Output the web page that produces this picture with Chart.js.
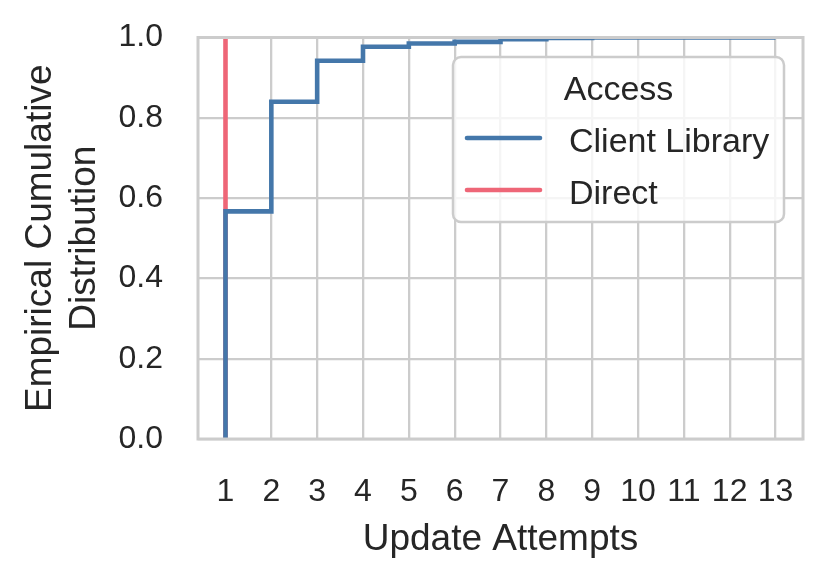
<!DOCTYPE html>
<html>
<head>
    <meta charset="utf-8">
    <title>Update Attempts ECDF</title>
    <style>
        body {
            margin: 0;
            background: white;
        }
        .chart-box {
            width: 829px;
            height: 584px;
        }
    </style>
    <script src="https://cdn.jsdelivr.net/npm/chart.js@4.4.1/dist/chart.umd.min.js"></script>
</head>
<body>
    <div class="chart-box">
        <canvas id="ecdfChart"></canvas>
    </div>
    <script>
        // values
        const attempts = [1, 2, 3, 4, 5, 6, 7, 8, 9, 10, 11, 12, 13];
        const clientLibrary = [0.567, 0.840, 0.942, 0.977, 0.985, 0.989, 0.996, 0.999, 1.0, 1.0, 1.0, 1.0, 1.0];
        const directAttempts = [1];
        const direct = [1.0];
        const xTicks = [1, 2, 3, 4, 5, 6, 7, 8, 9, 10, 11, 12, 13];
        const yTicks = [0, 0.2, 0.4, 0.6, 0.8, 1.0];
        const legendTitle = 'Access';

        const textColor = '#262626';
        const gridColor = '#cccccc';
        const fontFamily = "'Liberation Sans', Arial, sans-serif";

        // ecdf starts at zero on the first value, then steps
        function ecdfPoints(xs, ys) {
            const pts = [{x: xs[0], y: 0}];
            xs.forEach((x, i) => pts.push({x: x, y: ys[i]}));
            return pts;
        }

        // frame around the plot area, drawn over the lines like matplotlib spines
        const frame = {
            id: 'frame',
            afterDatasetsDraw(chart) {
                const a = chart.chartArea;
                const c = chart.ctx;
                c.save();
                c.strokeStyle = gridColor;
                c.lineWidth = 3;
                c.strokeRect(a.left, a.top, a.right - a.left, a.bottom - a.top);
                c.restore();
            }
        };

        // legend box in the upper right, seaborn style
        const boxLegend = {
            id: 'boxLegend',
            afterDraw(chart) {
                const a = chart.chartArea;
                const c = chart.ctx;
                const w = 331, h = 165;
                const left = a.right - 19 - w;
                const top = a.top + 19.5;
                c.save();
                c.beginPath();
                c.roundRect(left, top, w, h, 8);
                c.fillStyle = 'rgba(255,255,255,0.8)';
                c.fill();
                c.strokeStyle = gridColor;
                c.lineWidth = 2.5;
                c.stroke();

                c.fillStyle = textColor;
                c.font = '34px ' + fontFamily;
                c.textAlign = 'center';
                c.textBaseline = 'alphabetic';
                c.fillText(legendTitle, left + w / 2, top + 43);

                c.textAlign = 'left';
                chart.data.datasets.forEach((ds, i) => {
                    const ly = top + 81 + i * 52;
                    c.beginPath();
                    c.moveTo(left + 14, ly);
                    c.lineTo(left + 87, ly);
                    c.strokeStyle = ds.borderColor;
                    c.lineWidth = 4.6;
                    c.lineCap = 'round';
                    c.stroke();
                    c.fillStyle = textColor;
                    c.fillText(ds.label, left + 116, ly + 14);
                });
                c.restore();
            }
        };

        const ctx = document.getElementById('ecdfChart').getContext('2d');
        const ecdfChart = new Chart(ctx, {
            type: 'line',
            data: {
                datasets: [{
                    label: 'Client Library',
                    data: ecdfPoints(attempts, clientLibrary),
                    borderColor: '#4477aa',
                    borderWidth: 4.6,
                    stepped: 'before',
                    pointRadius: 0,
                    fill: false,
                    clip: 0
                }, {
                    label: 'Direct',
                    data: ecdfPoints(directAttempts, direct),
                    borderColor: '#ee6677',
                    borderWidth: 4.6,
                    stepped: 'before',
                    pointRadius: 0,
                    fill: false,
                    clip: 0
                }]
            },
            options: {
                responsive: true,
                maintainAspectRatio: false,
                animation: false,
                layout: {
                    padding: {left: 0, top: 37.5, right: 26, bottom: 0}
                },
                plugins: {
                    legend: {display: false},
                    tooltip: {enabled: false}
                },
                scales: {
                    x: {
                        type: 'linear',
                        min: 0.4,
                        max: 13.6,
                        afterBuildTicks: axis => {
                            axis.ticks = xTicks.map(v => ({value: v}));
                        },
                        afterFit: axis => {
                            axis.height = 145;
                        },
                        ticks: {
                            color: textColor,
                            padding: 34,
                            maxRotation: 0,
                            autoSkip: false,
                            font: {family: fontFamily, size: 32}
                        },
                        grid: {
                            color: gridColor,
                            lineWidth: 2.3,
                            drawTicks: false
                        },
                        border: {display: false},
                        title: {
                            display: true,
                            text: 'Update Attempts',
                            color: textColor,
                            padding: {top: 0, bottom: 23},
                            font: {family: fontFamily, size: 37, lineHeight: 1.15}
                        }
                    },
                    y: {
                        min: 0,
                        max: 1,
                        afterBuildTicks: axis => {
                            axis.ticks = yTicks.map(v => ({value: v}));
                        },
                        afterFit: axis => {
                            axis.width = 198;
                            // tick padding should not push the plot down
                            axis.paddingTop = 0;
                            axis.paddingBottom = 0;
                        },
                        ticks: {
                            color: textColor,
                            padding: 35,
                            callback: v => v.toFixed(1),
                            font: {family: fontFamily, size: 32}
                        },
                        grid: {
                            color: gridColor,
                            lineWidth: 2.3,
                            drawTicks: false
                        },
                        border: {display: false},
                        title: {
                            display: true,
                            text: ['Empirical Cumulative', 'Distribution'],
                            color: textColor,
                            padding: {top: 19, bottom: 0},
                            font: {family: fontFamily, size: 37, lineHeight: 1.18}
                        }
                    }
                }
            },
            plugins: [frame, boxLegend]
        });
    </script>
</body>
</html>
